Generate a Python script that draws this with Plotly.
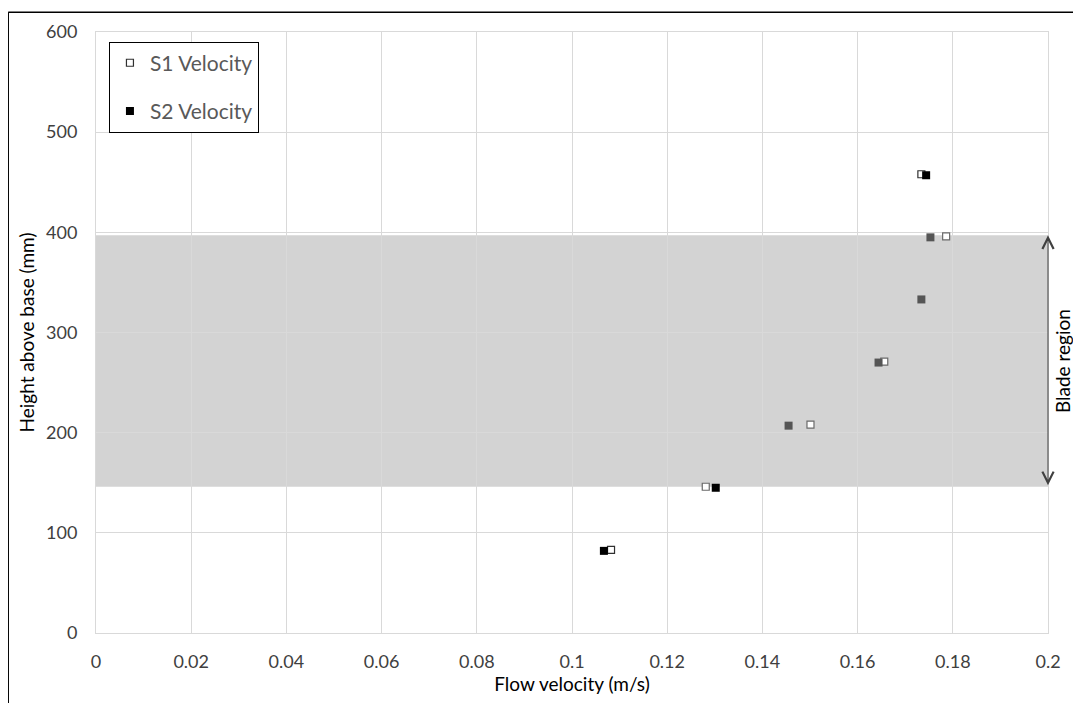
import plotly.graph_objects as go

# Data
s1_velocity = [0.1082, 0.1281, 0.1501, 0.1656, 0.1786, 0.1734]
s1_height = [83, 146, 208, 271, 396, 458]
s2_velocity = [0.1067, 0.1302, 0.1455, 0.1644, 0.1734, 0.1753, 0.1744]
s2_height = [82, 145, 207, 270, 333, 395, 457]
blade_bottom = 146
blade_top = 397
x_ticks = [0, 0.02, 0.04, 0.06, 0.08, 0.1, 0.12, 0.14, 0.16, 0.18, 0.2]
x_tick_labels = ["0", "0.02", "0.04", "0.06", "0.08", "0.1", "0.12", "0.14", "0.16", "0.18", "0.2"]
y_ticks = [0, 100, 200, 300, 400, 500, 600]

FONT = "Lato, Open Sans, sans-serif"

def in_blade(h):
    return blade_bottom <= h <= blade_top

s1_line = ["#6a6a6a" if in_blade(h) else "#303030" for h in s1_height]
s2_fill = ["#555555" if in_blade(h) else "#000000" for h in s2_height]

fig = go.Figure()
fig.add_trace(go.Scatter(
    x=s1_velocity, y=s1_height, mode="markers", name="S1 Velocity",
    legendgroup="a",
    marker=dict(symbol="square", size=7, color="white",
                line=dict(color=s1_line, width=1.2)),
))
fig.add_trace(go.Scatter(
    x=s2_velocity, y=s2_height, mode="markers", name="S2 Velocity",
    legendgroup="b",
    marker=dict(symbol="square", size=8, color=s2_fill,
                line=dict(color=s2_fill, width=0)),
))

# Blade region shading
fig.add_shape(type="rect", xref="x", yref="y", x0=0, x1=0.2,
              y0=blade_bottom, y1=blade_top, fillcolor="#d3d3d3",
              line=dict(width=0), layer="below")

# Double arrow
fig.add_annotation(x=0.2, y=blade_top, ax=0.2, ay=blade_bottom,
                   xref="x", yref="y", axref="x", ayref="y",
                   showarrow=True, arrowside="end+start", arrowhead=5,
                   arrowsize=2.2, arrowwidth=1, arrowcolor="#404040", text="")
fig.add_annotation(x=0.2, y=(blade_bottom + blade_top) / 2, xref="x", yref="y",
                   xshift=14, text="Blade region", textangle=-90, showarrow=False,
                   font=dict(family=FONT, size=19, color="#000000"))

# Outer frame (left and top edges visible)
fig.add_shape(type="line", xref="paper", yref="paper",
              x0=-0.0922, x1=-0.0922, y0=-0.2, y1=1.033,
              line=dict(color="#000000", width=1.5))
fig.add_shape(type="line", xref="paper", yref="paper",
              x0=-0.0922, x1=1.1, y0=1.033, y1=1.033,
              line=dict(color="#000000", width=1.5))

fig.update_xaxes(range=[0, 0.2], tickvals=x_ticks, ticktext=x_tick_labels,
                 showgrid=True, gridcolor="#d9d9d9", gridwidth=1,
                 showline=True, linecolor="#d9d9d9", linewidth=1, mirror=True,
                 zeroline=False, ticks="", ticklabelstandoff=12,
                 tickfont=dict(family=FONT, size=18, color="#404040"),
                 title=dict(text="Flow velocity (m/s)", standoff=4,
                            font=dict(family=FONT, size=19, color="#000000")))
fig.update_yaxes(range=[0, 600], tickvals=y_ticks,
                 showgrid=True, gridcolor="#d9d9d9", gridwidth=1,
                 showline=True, linecolor="#d9d9d9", linewidth=1, mirror=True,
                 zeroline=False, ticks="", ticklabelstandoff=14,
                 tickfont=dict(family=FONT, size=18, color="#404040"),
                 title=dict(text="Height above base (mm)", standoff=6,
                            font=dict(family=FONT, size=19, color="#000000")))

fig.update_layout(
    width=1065, height=695,
    margin=dict(l=88, r=23, t=20, b=70),
    paper_bgcolor="white", plot_bgcolor="white",
    showlegend=True,
    legend=dict(x=0.0136, y=0.984, xanchor="left", yanchor="top",
                bgcolor="white", bordercolor="#000000", borderwidth=1,
                font=dict(family=FONT, size=21, color="#595959"),
                tracegroupgap=18, itemsizing="trace", itemwidth=30,
                entrywidth=120, entrywidthmode="pixels"),
)

fig.write_html("out.html")
